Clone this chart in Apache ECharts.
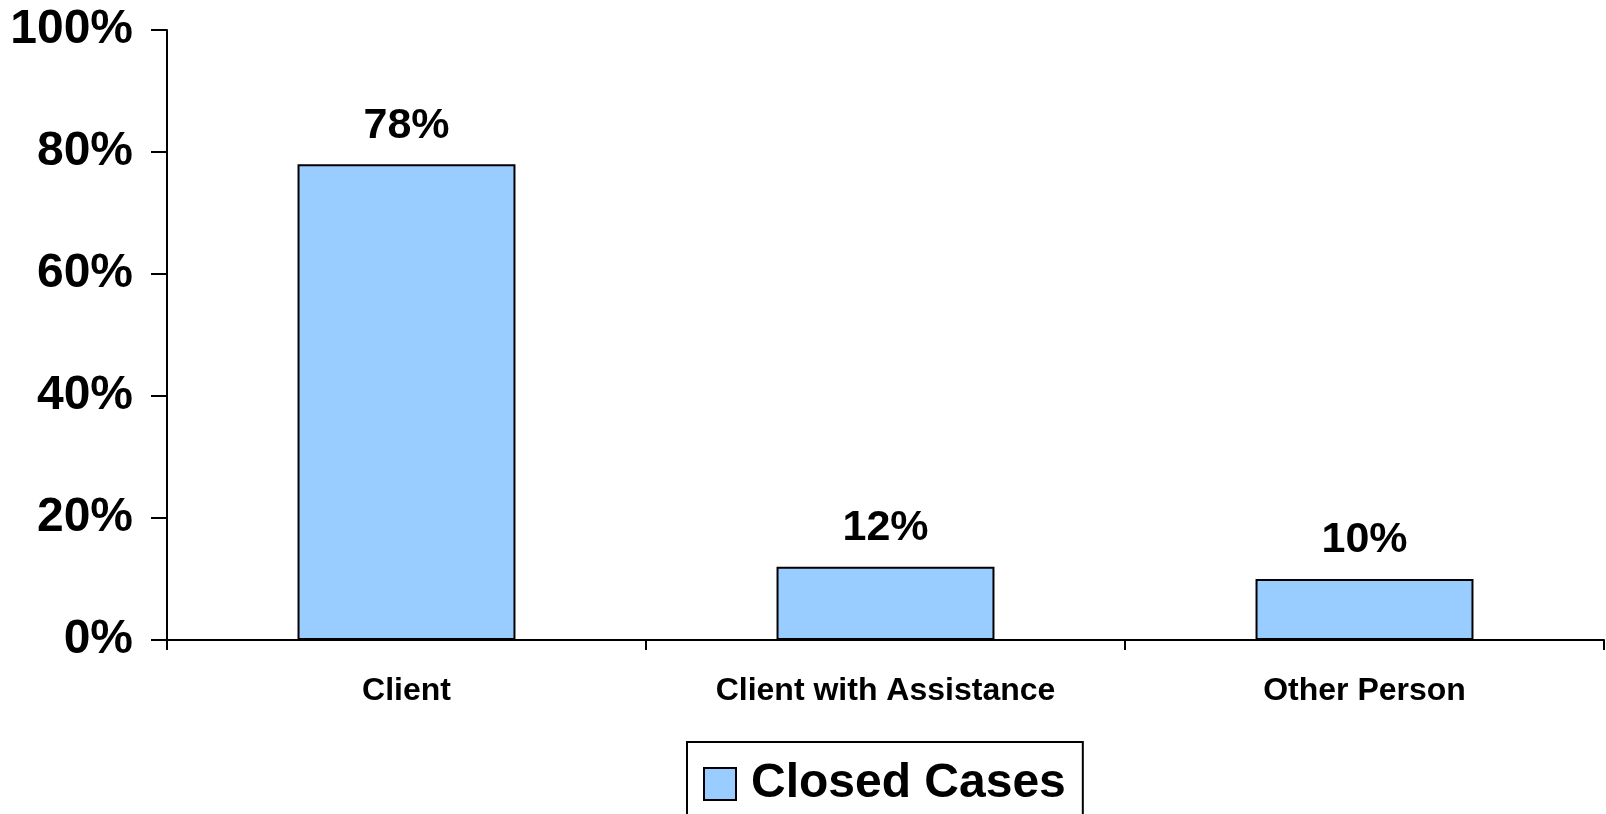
<!DOCTYPE html>
<html>
<head>
<meta charset="utf-8">
<script src="https://cdn.jsdelivr.net/npm/echarts@6/dist/echarts.min.js"></script>
<style>
  html, body { margin: 0; padding: 0; background: #fff; }
  #chart { width: 1606px; height: 814px; }
</style>
</head>
<body>
<div id="chart"></div>
<script>
// Who closed the cases, share of all closed cases
const categories = ['Client', 'Client with Assistance', 'Other Person'];
const closedCases = [78, 12, 10];
const seriesName = 'Closed Cases';
const yTicks = { min: 0, max: 100, interval: 20 };

const FONT = '"Liberation Sans", Arial, sans-serif';

const chart = echarts.init(document.getElementById('chart'));
chart.setOption({
  backgroundColor: '#ffffff',
  animation: false,
  grid: { left: 167, right: 2, top: 30, bottom: 174, containLabel: false },
  legend: {
    data: [seriesName],
    left: 687,
    top: 742,
    padding: [18, 17, 30, 16],
    borderColor: '#000',
    borderWidth: 2,
    itemWidth: 32,
    itemHeight: 32,
    icon: 'rect',
    itemStyle: { borderColor: '#000', borderWidth: 2 },
    textStyle: {
      fontFamily: FONT, fontWeight: 'bold', fontSize: 48, color: '#000',
      padding: [0, 0, 0, 10]
    }
  },
  xAxis: {
    type: 'category',
    data: categories,
    boundaryGap: true,
    axisLine: { lineStyle: { color: '#000', width: 2 } },
    axisTick: { show: true, alignWithLabel: false, length: 10, lineStyle: { color: '#000', width: 2 } },
    axisLabel: {
      margin: 35, color: '#000', fontFamily: FONT, fontWeight: 'bold', fontSize: 32, interval: 0
    },
    splitLine: { show: false }
  },
  yAxis: {
    type: 'value',
    min: yTicks.min,
    max: yTicks.max,
    interval: yTicks.interval,
    axisLine: { show: true, lineStyle: { color: '#000', width: 2 } },
    axisTick: { show: true, length: 16, lineStyle: { color: '#000', width: 2 } },
    axisLabel: {
      formatter: '{value}%', margin: 34, color: '#000',
      fontFamily: FONT, fontWeight: 'bold', fontSize: 48
    },
    splitLine: { show: false }
  },
  series: [{
    name: seriesName,
    type: 'bar',
    data: closedCases,
    barWidth: '45.5%',
    itemStyle: { color: '#99CCFF', borderColor: '#000', borderWidth: 2 },
    label: {
      show: true, position: 'top', distance: 17, formatter: '{c}%',
      color: '#000', fontFamily: FONT, fontWeight: 'bold', fontSize: 43
    }
  }]
});
</script>
</body>
</html>
